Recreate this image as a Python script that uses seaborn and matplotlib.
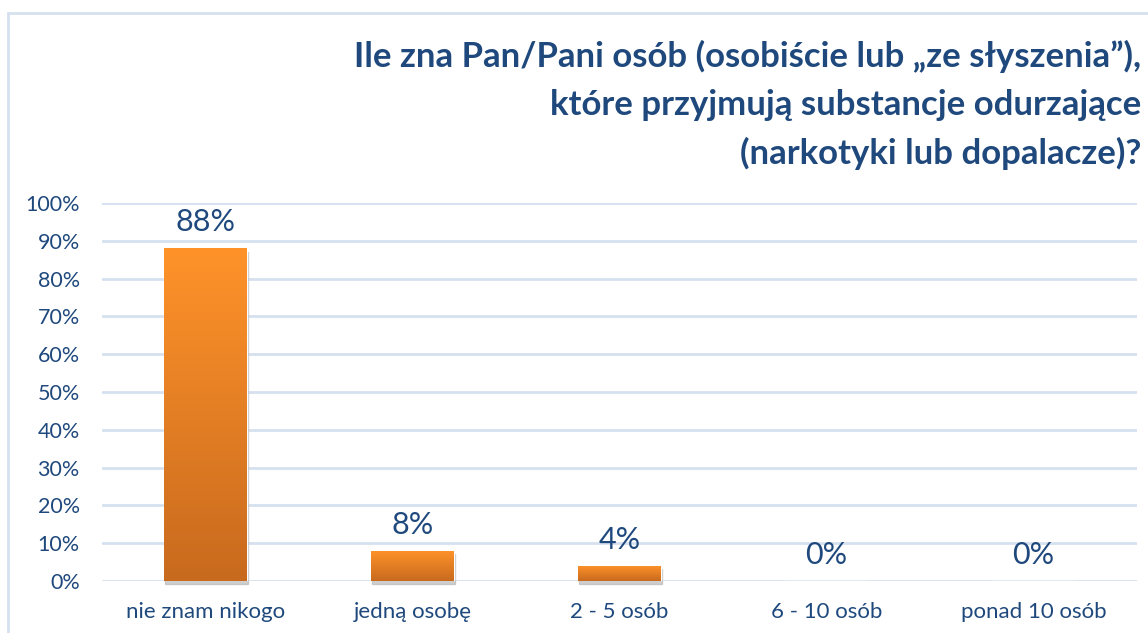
#!/usr/bin/env python3

from matplotlib import pyplot as plt
from matplotlib.colors import LinearSegmentedColormap
from matplotlib.patches import Rectangle
import numpy as np
import pandas as pd
import seaborn as sns

categories = ['nie znam nikogo', 'jedną osobę', '2 - 5 osób', '6 - 10 osób', 'ponad 10 osób']
values = [88, 8, 4, 0, 0]
yticks = [0, 10, 20, 30, 40, 50, 60, 70, 80, 90, 100]

title = ('Ile zna Pan/Pani osób (osobiście lub \u201eze słyszenia\u201d),\n'
         'które przyjmują substancje odurzające\n'
         '(narkotyki lub dopalacze)?')

BLUE = '#1f497d'
GRID = '#d6e1f0'

sns.set_style('white')
plt.rcParams['font.family'] = ['Lato', 'DejaVu Sans']

df = pd.DataFrame({'kat': categories, 'val': values})

fig = plt.figure(figsize=(11.48, 6.33), dpi=100)
ax = fig.add_axes([102 / 1148, 1 - 581 / 633, (1137 - 102) / 1148, (581 - 203) / 633])

sns.barplot(data=df, x='kat', y='val', color='#f28a2a', width=0.40, ax=ax, zorder=3)

ax.set_ylim(0, 100)
ax.set_xlim(-0.5, len(categories) - 0.5)
ax.set_yticks(yticks)
ax.set_yticklabels([f'{t}%' for t in yticks])
ax.set_xlabel('')
ax.set_ylabel('')
for s in ax.spines.values():
    s.set_visible(False)
ax.yaxis.grid(True, color=GRID, linewidth=2)
ax.set_axisbelow(True)
ax.tick_params(axis='y', length=0, pad=16, labelsize=15.5, labelcolor=BLUE)
ax.tick_params(axis='x', length=0, pad=15, labelsize=16, labelcolor=BLUE)

# gradient fill + soft shadow for bars
cmap = LinearSegmentedColormap.from_list('org', ['#c86a1e', '#ff932a'])
grad = np.linspace(0, 1, 256).reshape(-1, 1)
for p in ax.patches:
    x0, w, h = p.get_x(), p.get_width(), p.get_height()
    if h <= 0:
        continue
    sh = Rectangle((x0 + 0.004, -0.9), w, h, color='#b0b0b0', alpha=0.6, zorder=2,
                   clip_on=False)
    ax.add_patch(sh)
    im = ax.imshow(grad, cmap=cmap, origin='lower', aspect='auto',
                   extent=[x0, x0 + w, 0, h], zorder=4)
    im.set_clip_path(p)

for i, v in enumerate(values):
    ax.text(i, v + 3.2, f'{v}%', ha='center', va='bottom', fontsize=22, color=BLUE)

fig.text(1141 / 1148, 1 - 40 / 633, title, ha='right', va='top', fontsize=25,
         fontweight='bold', color=BLUE, linespacing=1.6)

# outer frame
fig.add_artist(Rectangle((8 / 1148, -0.1), 1.2, 1 - 13 / 633 + 0.1, transform=fig.transFigure,
                         fill=False, edgecolor=GRID, linewidth=2))

plt.savefig('out.png', dpi=100)
